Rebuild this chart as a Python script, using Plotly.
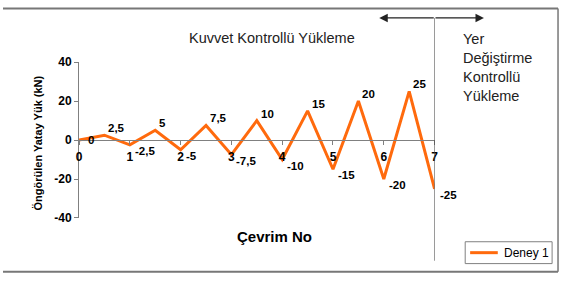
import plotly.graph_objects as go

W, H = 564, 282

# Data
cycles = [0, 0.5, 1, 1.5, 2, 2.5, 3, 3.5, 4, 4.5, 5, 5.5, 6, 6.5, 7]
loads = [0, 2.5, -2.5, 5, -5, 7.5, -7.5, 10, -10, 15, -15, 20, -20, 25, -25]
point_labels = ["0", "2,5", "-2,5", "5", "-5", "7,5", "-7,5", "10", "-10",
                "15", "-15", "20", "-20", "25", "-25"]
x_ticks = [0, 1, 2, 3, 4, 5, 6, 7]
y_ticks = [-40, -20, 0, 20, 40]
y_tick_text = ["-40", "-20", "0", "20", "40"]
series_name = "Deney 1"

FONT = "Liberation Sans, Arial, sans-serif"
ORANGE = "#FF6A0D"
GREY = "#808080"

def px_x(p):
    return p / W

def px_y(p):
    return 1 - p / H

fig = go.Figure()
fig.add_trace(go.Scatter(
    x=cycles, y=loads, mode="lines", name=series_name,
    line=dict(color=ORANGE, width=3),
    cliponaxis=False, showlegend=False,
))

ydom = [px_y(222), px_y(58)]
fig.update_layout(
    width=W, height=H,
    margin=dict(l=0, r=0, t=0, b=0),
    paper_bgcolor="white", plot_bgcolor="white",
    font=dict(family=FONT, size=11, color="black"),
    showlegend=False,
    xaxis=dict(domain=[px_x(77), px_x(437)], range=[0, 7],
               tickvals=x_ticks, ticks="outside", ticklen=4, tickcolor=GREY,
               showline=True, linecolor=GREY, linewidth=1,
               showgrid=False, zeroline=False,
               anchor="free", position=(ydom[0] + ydom[1]) / 2,
               tickfont=dict(family=FONT, size=12, color="black", weight="bold"),
               ticklabelstandoff=2),
    yaxis=dict(domain=ydom, range=[-40, 40], tickvals=y_ticks, ticktext=y_tick_text,
               ticks="outside", ticklen=4, tickcolor=GREY,
               showline=True, linecolor=GREY, linewidth=1,
               showgrid=False, zeroline=False,
               tickfont=dict(family=FONT, size=12, color="black", weight="bold")),
)

annotations = [
    dict(text="Kuvvet Kontrollü Yükleme", x=px_x(272), y=px_y(33),
         xref="paper", yref="paper", showarrow=False,
         xanchor="center", yanchor="middle",
         font=dict(family=FONT, size=14.5, color="#222")),
    dict(text="Yer<br>Değiştirme<br>Kontrollü<br>Yükleme", x=px_x(464), y=px_y(23),
         xref="paper", yref="paper", showarrow=False, xanchor="left", yanchor="top",
         align="left", font=dict(family=FONT, size=14.5, color="#222")),
    dict(text="<b>Öngörülen Yatay Yük (kN)</b>", x=px_x(35), y=px_y(143),
         xref="paper", yref="paper", showarrow=False, textangle=-90,
         xanchor="center", yanchor="middle",
         font=dict(family=FONT, size=11, color="black")),
    dict(text="<b>Çevrim No</b>", x=px_x(275), y=px_y(242),
         xref="paper", yref="paper", showarrow=False,
         xanchor="center", yanchor="middle",
         font=dict(family=FONT, size=15, color="black")),
    dict(text="", x=px_x(381), y=px_y(11.5), xref="paper", yref="paper",
         showarrow=True, ax=56, ay=0, arrowhead=2, arrowsize=1.3, arrowwidth=1.3,
         arrowcolor="#222", standoff=0),
    dict(text="", x=px_x(487), y=px_y(11.5), xref="paper", yref="paper",
         showarrow=True, ax=-50, ay=0, arrowhead=2, arrowsize=1.3, arrowwidth=1.3,
         arrowcolor="#222", standoff=0),
    # legend text
    dict(text=series_name, x=px_x(505), y=px_y(258.5), xref="paper", yref="paper",
         showarrow=False, xanchor="left", yanchor="middle",
         font=dict(family=FONT, size=12, color="black")),
]

# data labels (Excel-style, to the right of each point)
for cx, v, lab in zip(cycles, loads, point_labels):
    if v > 0:
        xs, ys = 2, 7
    elif v < 0:
        xs, ys = 3, -6
    else:
        xs, ys = 7, 0
    annotations.append(dict(
        text="<b>" + lab + "</b>", x=cx, y=v, xref="x", yref="y",
        showarrow=False, xanchor="left", yanchor="middle",
        xshift=xs, yshift=ys,
        font=dict(family=FONT, size=11.5, color="black")))

fig.update_layout(annotations=annotations)

shapes = [
    dict(type="line", xref="x", yref="paper", x0=7, x1=7,
         y0=px_y(11.5), y1=px_y(267), line=dict(color="#444", width=1)),
    dict(type="line", xref="paper", yref="paper", x0=0, x1=px_x(562),
         y0=px_y(1.5), y1=px_y(1.5), line=dict(color="#777", width=2)),
    dict(type="line", xref="paper", yref="paper", x0=0, x1=px_x(562),
         y0=px_y(278.5), y1=px_y(278.5), line=dict(color="#777", width=2)),
    dict(type="line", xref="paper", yref="paper", x0=px_x(562), x1=px_x(562),
         y0=px_y(1.5), y1=px_y(278.5), line=dict(color="#777", width=1.5)),
    # legend box and sample
    dict(type="rect", xref="paper", yref="paper", x0=px_x(468), x1=px_x(556),
         y0=px_y(270), y1=px_y(247), line=dict(color=GREY, width=1),
         fillcolor="white"),
    dict(type="line", xref="paper", yref="paper", x0=px_x(473), x1=px_x(501),
         y0=px_y(258.5), y1=px_y(258.5), line=dict(color=ORANGE, width=3)),
]
fig.update_layout(shapes=shapes)

fig.write_html("out.html")
